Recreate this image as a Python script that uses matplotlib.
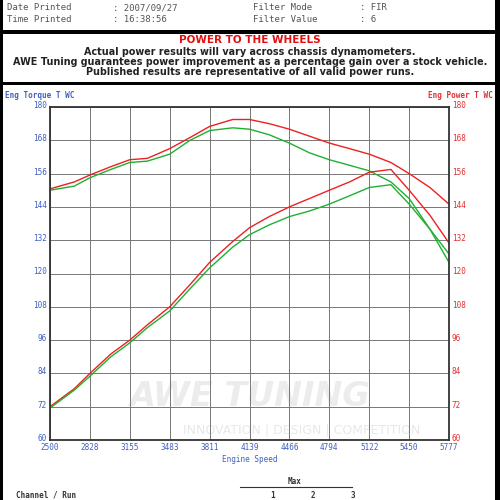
import matplotlib
matplotlib.use("Agg")
import matplotlib.pyplot as plt
from matplotlib.patches import Rectangle
from matplotlib.lines import Line2D
from matplotlib.transforms import ScaledTranslation

rpm = [2500, 2700, 2828, 3000, 3155, 3300, 3483, 3650, 3811, 4000, 4139, 4300, 4466, 4630, 4794, 4960, 5122, 5300, 5450, 5620, 5777]
tq_red = [150.5, 153, 155.5, 158.5, 161, 161.5, 165, 169, 173, 175.5, 175.5, 174, 172, 169.5, 167, 165, 163, 160, 156, 151, 145]
tq_green = [150, 151.5, 154.5, 157.5, 160, 160.5, 163, 168, 171.5, 172.5, 172, 170, 167, 163.5, 161, 159, 157, 153, 147, 136, 124]
pw_red = [72, 78.5, 84, 91, 96, 101.5, 108, 116, 124, 131.5, 136.5, 140.5, 144, 147, 150, 153, 156.5, 157.5, 150, 141, 131]
pw_green = [71.5, 78, 83, 90, 95, 100.5, 106.5, 114.5, 122, 129.5, 134, 137.5, 140.5, 142.5, 145, 148, 151, 152, 145, 136, 127]
xticks = [2500, 2828, 3155, 3483, 3811, 4139, 4466, 4794, 5122, 5450, 5777]
yticks = list(range(60, 181, 12))

fig = plt.figure(figsize=(5, 5), dpi=100)
fig.patch.set_facecolor("black")
W = 500
def fx(p): return p / W
def fy(p): return 1 - p / W

for y0, h in [(30, 30), (82, 48), (500, 415)]:
    fig.add_artist(Rectangle((fx(3), fy(y0)), fx(492), h / W, facecolor="white", edgecolor="none", zorder=-10))

mono = "DejaVu Sans Mono"
for y, a, b in [(8, "Date Printed", ": 2007/09/27"), (19, "Time Printed", ": 16:38:56")]:
    fig.text(fx(7), fy(y), a, family=mono, fontsize=6.5, color="#555", va="center")
    fig.text(fx(113), fy(y), b, family=mono, fontsize=6.5, color="#555", va="center")
for y, a, b in [(8, "Filter Mode", ": FIR"), (19, "Filter Value", ": 6")]:
    fig.text(fx(253), fy(y), a, family=mono, fontsize=6.5, color="#555", va="center")
    fig.text(fx(360), fy(y), b, family=mono, fontsize=6.5, color="#555", va="center")

fig.text(0.5, fy(40), "POWER TO THE WHEELS", color="#e01010", fontsize=7.5, weight="bold", ha="center", va="center")
for y, t in [(52, "Actual power results will vary across chassis dynamometers."),
             (62, "AWE Tuning guarantees power improvement as a percentage gain over a stock vehicle."),
             (72, "Published results are representative of all valid power runs.")]:
    fig.text(0.5, fy(y), t, color="#222", fontsize=6.9, weight="bold", ha="center", va="center")

ax = fig.add_axes([fx(50), fy(440), fx(399), 333 / W])
ax.set_xlim(2500, 5777)
ax.set_ylim(60, 180)
ax.set_xticks(xticks)
ax.set_yticks(yticks)
ax.grid(True, color="#777", lw=0.7)
ax.tick_params(length=0, labelsize=5.5, colors="#4060c0", pad=2)
for s in ax.spines.values():
    s.set_color("#333"); s.set_linewidth(1.3)
ax.set_xticklabels([str(v) for v in xticks], family=mono)
ax.set_yticklabels([str(v) for v in yticks], family=mono)
ax2 = ax.twinx()
ax2.set_ylim(60, 180)
ax2.set_yticks(yticks)
ax2.set_yticklabels([str(v) for v in yticks], family=mono)
ax2.tick_params(length=0, labelsize=5.5, colors="#e03030", pad=2)
for s in ax2.spines.values():
    s.set_visible(False)
up = ScaledTranslation(0, 1.8 / 72, fig.dpi_scale_trans)
for lab in ax.get_yticklabels() + ax2.get_yticklabels():
    lab.set_transform(lab.get_transform() + up)

ax.text(0.5, 0.13, "AWE TUNING", transform=ax.transAxes, fontsize=24, color="#ececec",
        style="italic", weight="bold", ha="center", va="center", zorder=0)
ax.text(0.63, 0.03, "INNOVATION | DESIGN | COMPETITION", transform=ax.transAxes, fontsize=9,
        color="#e8e8e8", ha="center", va="center", zorder=0)

for ys, c in [(tq_red, "#ee2020"), (tq_green, "#20b030"), (pw_red, "#ee2020"), (pw_green, "#20b030")]:
    ax.plot(rpm, ys, color=c, lw=1.0)

ax.set_xlabel("Engine Speed", family=mono, fontsize=5.5, color="#4060c0", labelpad=2)
fig.text(fx(5), fy(95), "Eng Torque T WC", family=mono, fontsize=5.5, color="#4060c0", weight="bold", va="center")
fig.text(fx(493), fy(95), "Eng Power T WC", family=mono, fontsize=5.5, color="#e03030", weight="bold", va="center", ha="right")

fig.text(fx(295), fy(482), "Max", family=mono, fontsize=5.5, color="#333", weight="bold", ha="center", va="center")
fig.add_artist(Line2D([fx(240), fx(352)], [fy(487), fy(487)], color="#333", lw=0.8))
fig.text(fx(16), fy(495), "Channel / Run", family=mono, fontsize=5.5, color="#333", weight="bold", va="center")
for x, t in [(273, "1"), (313, "2"), (353, "3")]:
    fig.text(fx(x), fy(495), t, family=mono, fontsize=5.5, color="#333", weight="bold", va="center", ha="center")

fig.savefig("out.png", dpi=100, facecolor=fig.get_facecolor())
